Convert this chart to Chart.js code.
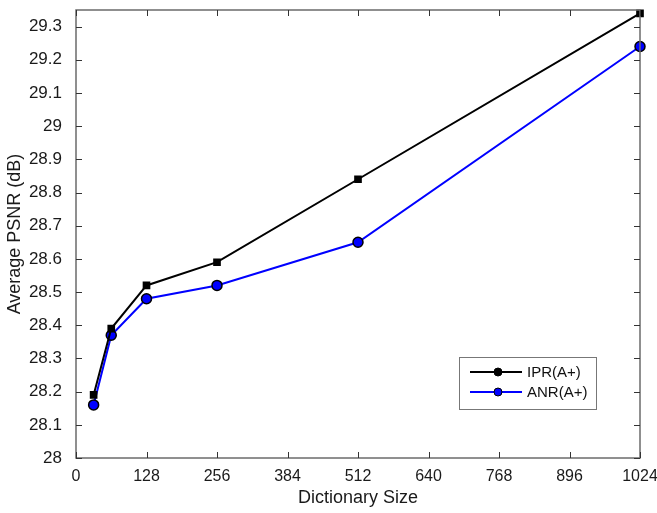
<!DOCTYPE html>
<html>
<head>
<meta charset="utf-8">
<script src="https://cdn.jsdelivr.net/npm/chart.js@4"></script>
<style>
  body { margin: 0; background: #fff; }
  #wrap { width: 657px; height: 513px; }
</style>
</head>
<body>
<div id="wrap"><canvas id="psnrChart"></canvas></div>
<script>
const dictSizes = [32, 64, 128, 256, 512, 1024];
const iprValues = [28.19, 28.39, 28.52, 28.59, 28.84, 29.34];
const anrValues = [28.16, 28.37, 28.48, 28.52, 28.65, 29.24];
const xTicks = [0, 128, 256, 384, 512, 640, 768, 896, 1024];
const yTicks = [28, 28.1, 28.2, 28.3, 28.4, 28.5, 28.6, 28.7, 28.8, 28.9, 29, 29.1, 29.2, 29.3];

function toPoints(vals) {
  const pts = [];
  for (let i = 0; i < dictSizes.length; i++) {
    pts.push({ x: dictSizes[i], y: vals[i] });
  }
  return pts;
}

const FONT = "'Liberation Sans', Arial, sans-serif";

// box round the plot + inward ticks on every side, matlab style
const boxPlugin = {
  id: 'box',
  afterDraw(chart) {
    const ctx = chart.ctx;
    const a = chart.chartArea;
    const xs = chart.scales.x, ys = chart.scales.y;
    ctx.save();
    ctx.strokeStyle = '#6b6b6b';
    ctx.lineWidth = 1.5;
    ctx.strokeRect(a.left, a.top, a.right - a.left, a.bottom - a.top);
    ctx.strokeStyle = '#333';
    ctx.lineWidth = 1;
    ctx.beginPath();
    xs.ticks.forEach(t => {
      const px = Math.round(xs.getPixelForValue(t.value)) + 0.5;
      ctx.moveTo(px, a.bottom); ctx.lineTo(px, a.bottom - 6);
      ctx.moveTo(px, a.top); ctx.lineTo(px, a.top + 6);
    });
    ys.ticks.forEach(t => {
      const py = Math.round(ys.getPixelForValue(t.value)) + 0.5;
      ctx.moveTo(a.left, py); ctx.lineTo(a.left + 6, py);
      ctx.moveTo(a.right, py); ctx.lineTo(a.right - 6, py);
    });
    ctx.stroke();

    // legend
    const lx = 459, ly = 357, lw = 137, lh = 52;
    ctx.fillStyle = '#fff';
    ctx.fillRect(lx, ly, lw, lh);
    ctx.strokeStyle = '#777';
    ctx.lineWidth = 1;
    ctx.strokeRect(lx + 0.5, ly + 0.5, lw, lh);
    chart.data.datasets.forEach((ds, i) => {
      const cy = ly + 15 + i * 20;
      ctx.strokeStyle = ds.borderColor;
      ctx.lineWidth = 2;
      ctx.beginPath();
      ctx.moveTo(lx + 11, cy); ctx.lineTo(lx + 63, cy);
      ctx.stroke();
      ctx.beginPath();
      ctx.arc(lx + 39, cy, 4, 0, Math.PI * 2);
      ctx.fillStyle = ds.pointBackgroundColor;
      ctx.fill();
      ctx.strokeStyle = '#000';
      ctx.lineWidth = 1;
      ctx.stroke();
      ctx.fillStyle = '#111';
      ctx.font = '15px ' + FONT;
      ctx.textBaseline = 'middle';
      ctx.fillText(ds.label, lx + 68, cy + 1);
    });
    ctx.restore();
  }
};

const data = {
  datasets: [
    {
      label: 'IPR(A+)',
      data: toPoints(iprValues),
      borderColor: '#000',
      backgroundColor: '#000',
      pointBackgroundColor: '#000',
      pointBorderColor: '#000',
      pointRadius: 4,
      pointStyle: 'rect',
      borderWidth: 2,
      showLine: true,
      clip: false
    },
    {
      label: 'ANR(A+)',
      data: toPoints(anrValues),
      borderColor: '#0000ff',
      backgroundColor: '#0000ff',
      pointBackgroundColor: '#0000ff',
      pointBorderColor: '#000',
      pointBorderWidth: 1.5,
      pointRadius: 5,
      borderWidth: 2,
      showLine: true,
      clip: false
    }
  ]
};

const config = {
  type: 'scatter',
  data: data,
  plugins: [boxPlugin],
  options: {
    responsive: true,
    maintainAspectRatio: false,
    animation: false,
    layout: { padding: { left: 0, right: 17, top: 10, bottom: 0 } },
    plugins: { legend: { display: false }, tooltip: { enabled: false } },
    scales: {
      x: {
        type: 'linear',
        min: 0, max: 1024,
        afterBuildTicks: s => { s.ticks = xTicks.map(v => ({ value: v })); },
        afterFit: s => { s.height = 55; s.paddingLeft = 0; s.paddingRight = 0; },
        grid: { display: false },
        border: { display: false },
        ticks: { color: '#1a1a1a', font: { size: 16, family: FONT }, padding: 1, maxRotation: 0, callback: v => String(v) },
        title: { display: true, text: 'Dictionary Size', color: '#1a1a1a', font: { size: 18, family: FONT }, padding: { top: 2 } }
      },
      y: {
        type: 'linear',
        min: 28, max: 29.35,
        afterBuildTicks: s => { s.ticks = yTicks.map(v => ({ value: v })); },
        afterFit: s => { s.width = 76; s.paddingTop = 0; s.paddingBottom = 0; },
        grid: { display: false },
        border: { display: false },
        ticks: {
          color: '#1a1a1a', font: { size: 17, family: FONT }, padding: 6,
          callback: v => String(Number(v.toFixed(1)))
        },
        title: { display: true, text: 'Average PSNR (dB)', color: '#1a1a1a', font: { size: 18, family: FONT }, padding: { bottom: 2 } }
      }
    }
  }
};

const psnrChart = new Chart(document.getElementById('psnrChart'), config);
</script>
</body>
</html>
